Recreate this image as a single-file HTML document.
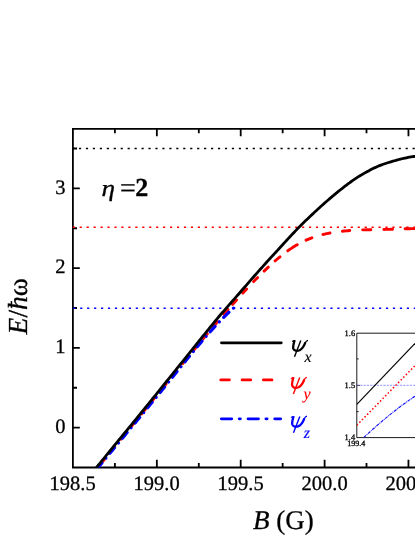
<!DOCTYPE html>
<html><head><meta charset="utf-8"><style>
html,body{margin:0;padding:0;background:#fff;}
body{width:415px;height:537px;overflow:hidden;}
svg{display:block;will-change:transform;}
text{font-family:"Liberation Serif",serif;fill:#000;text-rendering:geometricPrecision;}
</style></head><body>
<svg width="415" height="537" viewBox="0 0 415 537">
<rect width="415" height="537" fill="#fff"/>
<defs><clipPath id="pc"><rect x="73" y="128.95" width="343" height="338.55"/></clipPath>
<clipPath id="ic"><rect x="356.8" y="333.2" width="60" height="104.4"/></clipPath></defs>
<!-- axes -->
<g stroke="#000" stroke-width="1.8" fill="none">
<path d="M415,128.9 H72.9 V467.5 H415"/>
<path d="M73,188.4h6.8 M73,268.13h6.8 M73,347.87h6.8 M73,427.6h6.8"/>
<path d="M73,148.5h4 M73,228.27h4 M73,308h4 M73,387.73h4"/>
<path d="M156.85,467.5v-7.7 M240.7,467.5v-7.7 M324.6,467.5v-7.7 M408.45,467.5v-7.7"/>
<path d="M114.9,467.5v-4.6 M198.8,467.5v-4.6 M282.65,467.5v-4.6 M366.5,467.5v-4.6"/>
<path d="M156.85,128.95v7.2 M240.7,128.95v7.2 M324.6,128.95v7.2 M408.45,128.95v7.2"/>
<path d="M114.9,128.95v4.3 M198.8,128.95v4.3 M282.65,128.95v4.3 M366.5,128.95v4.3"/>
</g>
<!-- dotted reference lines -->
<g fill="none" stroke-width="1.35" stroke-dasharray="2.2,4.75">
<line x1="72.0" y1="148.5" x2="415" y2="148.5" stroke="#000"/>
<line x1="72.7" y1="227.2" x2="415" y2="227.2" stroke="#f00"/>
<line x1="73.2" y1="308.2" x2="415" y2="308.2" stroke="#00f"/>
</g>
<!-- curves -->
<g clip-path="url(#pc)" fill="none">
<path d="M223.92,314.32 L225.95,311.98 L227.98,309.65 M232.63,304.38 L234.59,302.17 L236.56,299.98 M242.85,293.07 L244.74,291.02 L246.64,288.98 M253.67,281.59 L255.59,279.61 L257.51,277.65 M264.10,271.11 L266.19,269.10 L268.27,267.13 M275.15,260.91 L276.77,259.51 L278.39,258.14 L280.01,256.80 M287.83,250.79 L289.40,249.68 L290.98,248.61 L292.55,247.57 L294.13,246.56 L295.70,245.60 L297.28,244.67 M306.07,240.17 L308.01,239.33 L309.94,238.54 L311.88,237.81 M322.96,234.50 L324.72,234.09 L326.49,233.70 L328.26,233.34 L330.02,233.00 M342.39,231.21 L344.22,231.02 L346.05,230.84 L347.88,230.69 L349.70,230.55 M362.70,229.88 L364.34,229.83 L365.98,229.79 L367.62,229.75 L369.26,229.71 L370.90,229.68 M383.90,229.45 L385.64,229.42 L387.38,229.38 L389.12,229.33 L390.86,229.28 L392.60,229.23 M405.10,228.82 L406.60,228.78 L408.10,228.74 L409.60,228.70 L411.10,228.66 L412.60,228.63 L414.10,228.60 L415.60,228.58 L417.10,228.57 L418.60,228.56 M213.60,326.37 L215.60,324.02 L217.59,321.68 M203.30,338.65 L205.30,336.25 L207.30,333.85 M192.99,351.08 L195.00,348.65 L197.01,346.22 M182.69,363.60 L184.70,361.15 L186.71,358.71 M172.39,376.16 L174.40,373.70 L176.41,371.25 M162.09,388.75 L164.10,386.29 L166.11,383.83 M151.79,401.37 L153.80,398.90 L155.81,396.43 M141.48,414.00 L143.50,411.53 L145.52,409.06 M131.19,426.62 L133.20,424.15 L135.22,421.68 M120.89,439.24 L122.90,436.77 L124.91,434.31 M110.59,451.83 L112.60,449.37 L114.61,446.91 M100.29,464.38 L102.30,461.93 L104.31,459.48 M89.99,476.88 L92.00,474.44 L94.01,472.01" stroke="#f00" stroke-width="2.9" stroke-linecap="round"/>
<path d="M233.50,308.10 L231.99,309.44 L230.48,310.82 L228.97,312.22 L227.46,313.65 L225.95,315.11 L224.44,316.59 L222.93,318.10 L221.42,319.64 L219.91,321.19 L218.39,322.77 L216.88,324.37 L215.37,325.99 L213.86,327.64 L212.35,329.30 L210.84,330.97 L209.33,332.67 L207.82,334.38 L206.31,336.11 L204.80,337.85 L203.29,339.61 L201.78,341.38 L200.27,343.16 L198.76,344.95 L197.25,346.75 L195.74,348.56 L194.23,350.38 L192.72,352.21 L191.21,354.04 L189.69,355.88 L188.18,357.73 L186.67,359.58 L185.16,361.43 L183.65,363.29 L182.14,365.16 L180.63,367.03 L179.12,368.90 L177.61,370.77 L176.10,372.64 L174.59,374.52 L173.08,376.40 L171.57,378.28 L170.06,380.15 L168.55,382.03 L167.04,383.91 L165.53,385.78 L164.02,387.65 L162.51,389.52 L160.99,391.39 L159.48,393.25 L157.97,395.11 L156.46,396.96 L154.95,398.82 L153.44,400.66 L151.93,402.51 L150.42,404.35 L148.91,406.19 L147.40,408.03 L145.89,409.86 L144.38,411.70 L142.87,413.53 L141.36,415.35 L139.85,417.18 L138.34,419.00 L136.83,420.83 L135.32,422.65 L133.81,424.47 L132.29,426.29 L130.78,428.11 L129.27,429.92 L127.76,431.74 L126.25,433.56 L124.74,435.37 L123.23,437.19 L121.72,439.01 L120.21,440.83 L118.70,442.64 L117.19,444.46 L115.68,446.28 L114.17,448.10 L112.66,449.92 L111.15,451.74 L109.64,453.57 L108.13,455.39 L106.62,457.22 L105.11,459.05 L103.59,460.88 L102.08,462.71 L100.57,464.55 L99.06,466.39 L97.55,468.23 L96.04,470.07 L94.53,471.92 L93.02,473.77 L91.51,475.63 L90.00,477.48" stroke="#00f" stroke-width="3.2" stroke-linecap="round" stroke-dasharray="0.01,6.2,7.3,6.2"/>
<path d="M90.00,475.41 L91.50,473.58 L93.00,471.75 L94.50,469.91 L96.00,468.07 L97.50,466.23 L99.00,464.39 L100.50,462.55 L102.00,460.71 L103.50,458.87 L105.00,457.03 L106.50,455.18 L108.00,453.34 L109.50,451.50 L111.00,449.66 L112.50,447.81 L114.00,445.97 L115.50,444.12 L117.00,442.28 L118.50,440.45 L120.00,438.62 L121.50,436.80 L123.00,434.98 L124.50,433.16 L126.00,431.34 L127.50,429.52 L129.00,427.69 L130.50,425.86 L132.00,424.02 L133.50,422.19 L135.00,420.35 L136.50,418.52 L138.00,416.68 L139.50,414.84 L141.00,413.01 L142.50,411.17 L144.00,409.32 L145.50,407.48 L147.00,405.63 L148.50,403.78 L150.00,401.93 L151.50,400.08 L153.00,398.22 L154.50,396.37 L156.00,394.51 L157.50,392.65 L159.00,390.79 L160.50,388.93 L162.00,387.07 L163.50,385.21 L165.00,383.35 L166.50,381.49 L168.00,379.62 L169.50,377.76 L171.00,375.90 L172.50,374.04 L174.00,372.18 L175.50,370.32 L177.00,368.46 L178.50,366.60 L180.00,364.74 L181.50,362.88 L183.00,361.02 L184.50,359.16 L186.00,357.29 L187.50,355.42 L189.00,353.55 L190.50,351.68 L192.00,349.81 L193.50,347.94 L195.00,346.07 L196.50,344.20 L198.00,342.34 L199.50,340.47 L201.00,338.61 L202.50,336.74 L204.00,334.88 L205.50,333.02 L207.00,331.16 L208.50,329.31 L210.00,327.46 L211.50,325.61 L213.00,323.76 L214.50,321.91 L216.00,320.08 L217.50,318.28 L219.00,316.51 L220.50,314.76 L222.00,313.03 L223.50,311.30 L225.00,309.56 L226.50,307.84 L228.00,306.12 L229.50,304.42 L231.00,302.73 L232.50,301.04 L234.00,299.35 L235.50,297.65 L237.00,295.94 L238.50,294.21 L240.00,292.48 L241.50,290.75 L243.00,289.02 L244.50,287.29 L246.00,285.56 L247.50,283.84 L249.00,282.12 L250.50,280.40 L252.00,278.68 L253.50,276.97 L255.00,275.26 L256.50,273.56 L258.00,271.86 L259.50,270.17 L261.00,268.49 L262.50,266.81 L264.00,265.14 L265.50,263.47 L267.00,261.81 L268.50,260.16 L270.00,258.51 L271.50,256.87 L273.00,255.23 L274.50,253.59 L276.00,251.96 L277.50,250.33 L279.00,248.70 L280.50,247.07 L282.00,245.44 L283.50,243.80 L285.00,242.15 L286.50,240.51 L288.00,238.87 L289.50,237.24 L291.00,235.62 L292.50,234.01 L294.00,232.42 L295.50,230.85 L297.00,229.30 L298.50,227.78 L300.00,226.28 L301.50,224.78 L303.00,223.30 L304.50,221.83 L306.00,220.37 L307.50,218.92 L309.00,217.48 L310.50,216.06 L312.00,214.64 L313.50,213.23 L315.00,211.83 L316.50,210.44 L318.00,209.05 L319.50,207.68 L321.00,206.32 L322.50,204.97 L324.00,203.63 L325.50,202.30 L327.00,200.99 L328.50,199.69 L330.00,198.40 L331.50,197.13 L333.00,195.87 L334.50,194.63 L336.00,193.40 L337.50,192.17 L339.00,190.96 L340.50,189.75 L342.00,188.56 L343.50,187.38 L345.00,186.21 L346.50,185.06 L348.00,183.93 L349.50,182.82 L351.00,181.74 L352.50,180.67 L354.00,179.63 L355.50,178.62 L357.00,177.63 L358.50,176.67 L360.00,175.75 L361.50,174.85 L363.00,173.97 L364.50,173.11 L366.00,172.26 L367.50,171.44 L369.00,170.64 L370.50,169.85 L372.00,169.09 L373.50,168.35 L375.00,167.62 L376.50,166.93 L378.00,166.29 L379.50,165.67 L381.00,165.09 L382.50,164.53 L384.00,164.00 L385.50,163.47 L387.00,162.98 L388.50,162.52 L390.00,162.08 L391.50,161.64 L393.00,161.22 L394.50,160.78 L396.00,160.35 L397.50,159.93 L399.00,159.52 L400.50,159.13 L402.00,158.76 L403.50,158.40 L405.00,158.08 L406.50,157.77 L408.00,157.47 L409.50,157.18 L411.00,156.92 L412.50,156.69 L414.00,156.51 L415.50,156.36 L417.00,156.25 L418.50,156.17 L420.00,156.12" stroke="#000" stroke-width="2.8"/>
</g>
<!-- tick labels -->
<g font-size="20.5" text-anchor="end" stroke="#000" stroke-width="0.3">
<text x="65.5" y="193.7">3</text>
<text x="65.5" y="273.4">2</text>
<text x="65.5" y="353.2">1</text>
<text x="65.5" y="432.9">0</text>
</g>
<g font-size="20.5" text-anchor="middle" stroke="#000" stroke-width="0.3">
<text x="72.6" y="489.8">198.5</text>
<text x="156.6" y="489.8">199.0</text>
<text x="240.6" y="489.8">199.5</text>
<text x="324.6" y="489.8">200.0</text>
<text x="408.6" y="489.8">200.5</text>
</g>
<!-- axis titles -->
<text x="253" y="528.8" font-size="27" stroke="#000" stroke-width="0.3"><tspan font-style="italic">B</tspan> (G)</text>
<text transform="translate(26.8,334.4) rotate(-90)" font-size="27.5" stroke="#000" stroke-width="0.3"><tspan font-style="italic">E</tspan>/<tspan font-style="italic">ħ</tspan>ω</text>
<!-- eta -->
<text transform="translate(101.6,195.9) scale(1.15,1)" font-size="23.7" font-style="italic" stroke="#000" stroke-width="0.3">η</text>
<text y="195.9" font-size="26" stroke="#000" stroke-width="0.3"><tspan x="119.9" dy="1.1" font-size="28">=</tspan><tspan x="135.2" dy="-1.1" font-weight="bold">2</tspan></text>
<!-- legend -->
<g fill="none" stroke-width="2.8" stroke-linecap="round">
<line x1="221.4" y1="342.8" x2="281.3" y2="342.8" stroke="#000" stroke-width="2.7"/>
<line x1="220.8" y1="379.9" x2="275" y2="379.9" stroke="#f00" stroke-dasharray="8.6,12.7"/>
<line x1="221.3" y1="418.8" x2="280.7" y2="418.8" stroke="#00f" stroke-dasharray="10.5,7.4,1.2,7.6"/>
</g>
<defs><g id="psi" fill="none" stroke-linejoin="round">
<path d="M6.6,4.3 C5.8,7.2 4.7,10.4 5.3,12.6 C6,14.9 8.8,15.3 11.6,14.2 C14.4,12.9 16.3,9.3 17.4,6.4" stroke-width="2.3"/>
<path d="M4.1,5.6 Q5.4,4.6 7.2,4.6 M17,7 Q18.2,4.6 20,4.3" stroke-width="1.2"/>
<path d="M12.8,4.5 L6.5,20.8" stroke-width="1.4"/>
</g></defs>
<use href="#psi" x="288" y="336" stroke="#000"/>
<use href="#psi" x="286.9" y="373.1" stroke="#f00"/>
<use href="#psi" x="287" y="411.9" stroke="#00f"/>
<g font-size="16" font-style="italic" stroke-width="0.1">
<text x="304.4" y="362.4" stroke="#000">x</text>
<text x="303.6" y="398.5" style="fill:#f00" stroke="#f00" stroke-width="0.15">y</text>
<text x="303.8" y="438" style="fill:#00f" stroke="#00f" stroke-width="0.15">z</text>
</g>
<!-- inset -->
<g stroke="#000" stroke-width="0.9" fill="none">
<path d="M415,333.2 H356.8 V437.6 H415"/>
<path d="M356.8,385.4h3 M356.8,358.9h1.8 M356.8,411.6h1.8"/>
</g>
<g clip-path="url(#ic)" fill="none">
<line x1="357" y1="385.3" x2="415" y2="385.3" stroke="#66f" stroke-width="0.7" stroke-dasharray="2.2,1.1"/>
<line x1="356.8" y1="404.3" x2="415" y2="343.4" stroke="#000" stroke-width="1.15"/>
<line x1="356.8" y1="425.3" x2="415" y2="365.6" stroke="#f00" stroke-width="1.5" stroke-dasharray="1.5,2.2"/>
<path d="M363.6,437.6 Q393,410.5 415,396.2" stroke="#11f" stroke-width="1.15" stroke-dasharray="3.2,0.8,0.9,0.8"/>
</g>
<g font-size="8.4" stroke="#000" stroke-width="0.3">
<text x="344.6" y="336.2">1.6</text>
<text x="344.6" y="388.3">1.5</text>
<text x="344.6" y="440">1.4</text>
<text x="347.3" y="446.3" font-size="8">199.4</text>
</g>
</svg>
</body></html>
